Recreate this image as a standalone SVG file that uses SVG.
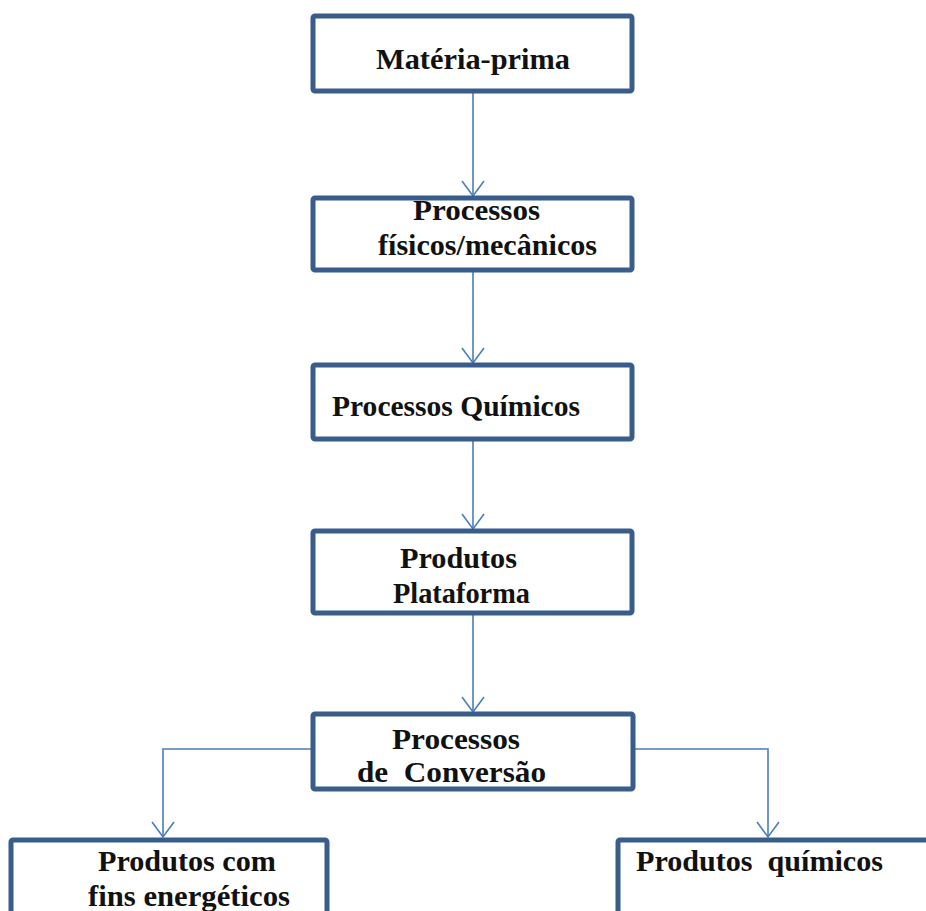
<svg xmlns="http://www.w3.org/2000/svg" width="926" height="911" viewBox="0 0 926 911">
<defs>
<style>
.box{fill:#fff;stroke:#385d8a;stroke-width:5;stroke-linejoin:round}
.t{font-family:"Liberation Serif","Times New Roman",serif;font-weight:bold;font-size:30px;fill:#111;white-space:pre}
.c{fill:none;stroke:#4a7ebb;stroke-width:1.6}
</style>
<marker id="ah" markerWidth="18" markerHeight="24" refX="16" refY="12" orient="auto" markerUnits="userSpaceOnUse" viewBox="0 0 18 24">
<path d="M1,1 L16,12 L1,23" fill="none" stroke="#4a7ebb" stroke-width="1.6"/>
</marker>
</defs>
<rect width="926" height="911" fill="#fff"/>
<g id="connectors">
<path class="c" d="M473,93 V196" marker-end="url(#ah)"/>
<path class="c" d="M473,271 V363" marker-end="url(#ah)"/>
<path class="c" d="M473,441 V529" marker-end="url(#ah)"/>
<path class="c" d="M473,615 V712" marker-end="url(#ah)"/>
<path class="c" d="M313,749 H163 V837" marker-end="url(#ah)"/>
<path class="c" d="M634,749 H768 V837" marker-end="url(#ah)"/>
</g>
<g id="n1">
<rect class="box" x="313" y="16" width="319" height="75" rx="2"/>
<text class="t" x="376" y="69" textLength="194" lengthAdjust="spacingAndGlyphs">Matéria-prima</text>
</g>
<g id="n2">
<rect class="box" x="313" y="198" width="319" height="72" rx="2"/>
<text class="t" x="413" y="220" textLength="127" lengthAdjust="spacingAndGlyphs">Processos</text>
<text class="t" x="378" y="255" textLength="219" lengthAdjust="spacingAndGlyphs">físicos/mecânicos</text>
</g>
<g id="n3">
<rect class="box" x="313" y="365" width="319" height="74" rx="2"/>
<text class="t" x="332" y="416" textLength="248" lengthAdjust="spacingAndGlyphs">Processos Químicos</text>
</g>
<g id="n4">
<rect class="box" x="313" y="531" width="319" height="82" rx="2"/>
<text class="t" x="400" y="568" textLength="117" lengthAdjust="spacingAndGlyphs">Produtos</text>
<text class="t" x="393" y="603" textLength="137" lengthAdjust="spacingAndGlyphs">Plataforma</text>
</g>
<g id="n5">
<rect class="box" x="313" y="714" width="320" height="75" rx="2"/>
<text class="t" x="392" y="749" textLength="128" lengthAdjust="spacingAndGlyphs">Processos</text>
<text class="t" x="357" y="782" textLength="189" lengthAdjust="spacingAndGlyphs">de  Conversão</text>
</g>
<g id="n6">
<rect class="box" x="11" y="840" width="316" height="90" rx="2"/>
<text class="t" x="98" y="871" textLength="178" lengthAdjust="spacingAndGlyphs">Produtos com</text>
<text class="t" x="88" y="906" textLength="202" lengthAdjust="spacingAndGlyphs">fins energéticos</text>
</g>
<g id="n7">
<rect class="box" x="618" y="840" width="320" height="90" rx="2"/>
<text class="t" x="636" y="871" textLength="247" lengthAdjust="spacingAndGlyphs">Produtos  químicos</text>
</g>
</svg>
